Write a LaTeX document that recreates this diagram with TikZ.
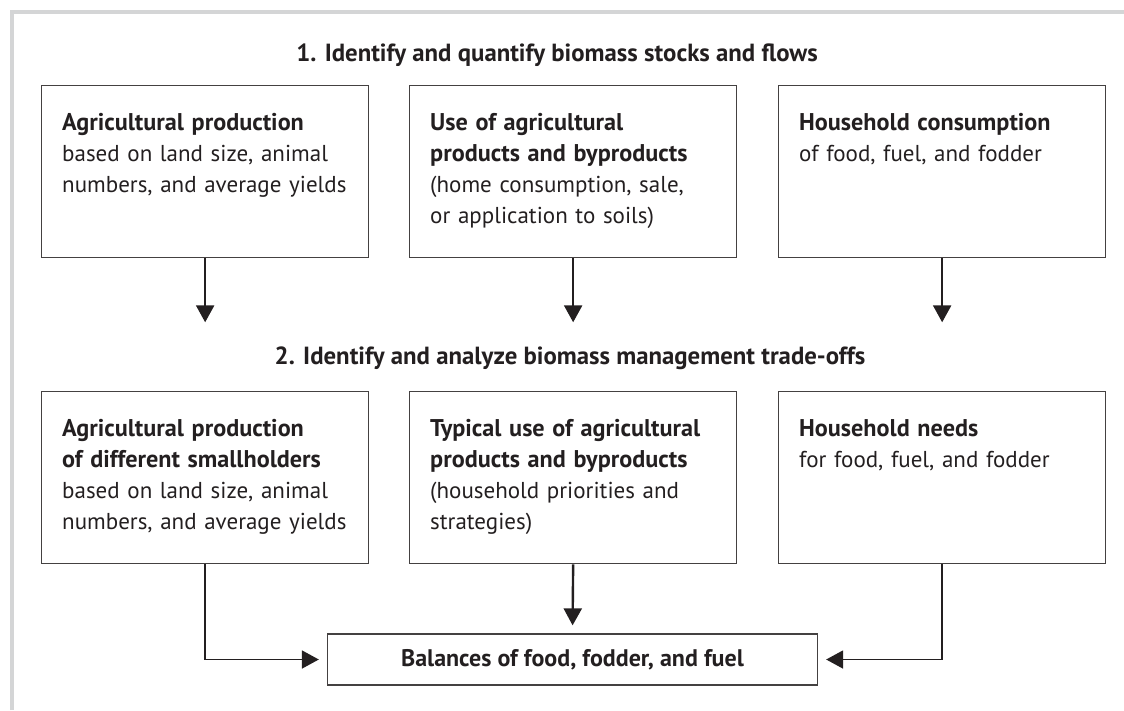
\documentclass[tikz,border=0pt]{standalone}
\usepackage{fontspec}
\setmainfont{PT Sans}
\usetikzlibrary{arrows.meta}
\definecolor{ink}{HTML}{231F20}
\definecolor{frame}{HTML}{D4D5D6}
\newcommand{\hd}[1]{{\fontsize{24.2}{31}\selectfont\bfseries #1}}
\tikzset{
  box/.style={draw=ink!85, line width=1.3pt, anchor=north west, inner sep=0pt,
    minimum width=327pt, minimum height=172pt},
  txt/.style={anchor=north west, inner sep=0pt, align=left, text width=310pt,
    text=ink, font=\fontsize{23}{31}\selectfont},
  head/.style={text=ink, font=\fontsize{24.8}{28}\selectfont\bfseries},
  arr/.style={draw=ink, line width=2.4pt, -{Triangle[width=18pt,length=17pt]}},
  link/.style={draw=ink, line width=1.8pt, -{Triangle[width=18pt,length=17pt]}, shorten >=8pt}
}
\begin{document}
\begin{tikzpicture}[x=1pt,y=-1pt]
\useasboundingbox (0,0) rectangle (1124,710);
\draw[frame, line width=4pt] (12,710) -- (12,12) -- (1124,12);
\node[head] (h1) at (557,55) {1. Identify and quantify biomass stocks and flows};
\node[head] (h2) at (570,358) {2. Identify and analyze biomass management trade-offs};
% step 1
\node[box] (pa) at (41,85) {};
\node[box] (pb) at (409,85) {};
\node[box] (pc) at (778,85) {};
\node[txt] (ta) at ([xshift=21pt,yshift=-28pt]pa.north west) {\hd{Agricultural production}\\based on land size, animal\\numbers, and average yields};
\node[txt] (tb) at ([xshift=21pt,yshift=-28pt]pb.north west) {\hd{Use of agricultural}\\\hd{products and byproducts}\\(home consumption, sale,\\or application to soils)};
\node[txt] (tc) at ([xshift=21pt,yshift=-28pt]pc.north west) {\hd{Household consumption}\\of food, fuel, and fodder};
\coordinate (ea) at ([yshift=-64pt]pa.south);
\coordinate (eb) at ([yshift=-64pt]pb.south);
\coordinate (ec) at ([yshift=-64pt]pc.south);
\draw[arr] (pa.south) -- (ea);
\draw[arr] (pb.south) -- (eb);
\draw[arr] (pc.south) -- (ec);
% step 2
\node[box] (qa) at (41,391) {};
\node[box] (qb) at (409,391) {};
\node[box] (qc) at (778,391) {};
\node[txt] (ua) at ([xshift=21pt,yshift=-28pt]qa.north west) {\hd{Agricultural production}\\\hd{of different smallholders}\\based on land size, animal\\numbers, and average yields};
\node[txt] (ub) at ([xshift=21pt,yshift=-28pt]qb.north west) {\hd{Typical use of agricultural}\\\hd{products and byproducts}\\(household priorities and\\strategies)};
\node[txt] (uc) at ([xshift=21pt,yshift=-28pt]qc.north west) {\hd{Household needs}\\for food, fuel, and fodder};
\node[draw=ink!85, line width=1.3pt, minimum width=490pt, minimum height=51pt, inner sep=0pt, text=ink,
  font=\fontsize{24}{28}\selectfont\bfseries] (bal) at (572.5,659.5) {Balances of food, fodder, and fuel};
\draw[link] (qa.south) |- (bal.west);
\draw[link, line width=2.4pt] (qb.south) -- (bal.north);
\draw[link] (qc.south) |- (bal.east);
\end{tikzpicture}
\end{document}
